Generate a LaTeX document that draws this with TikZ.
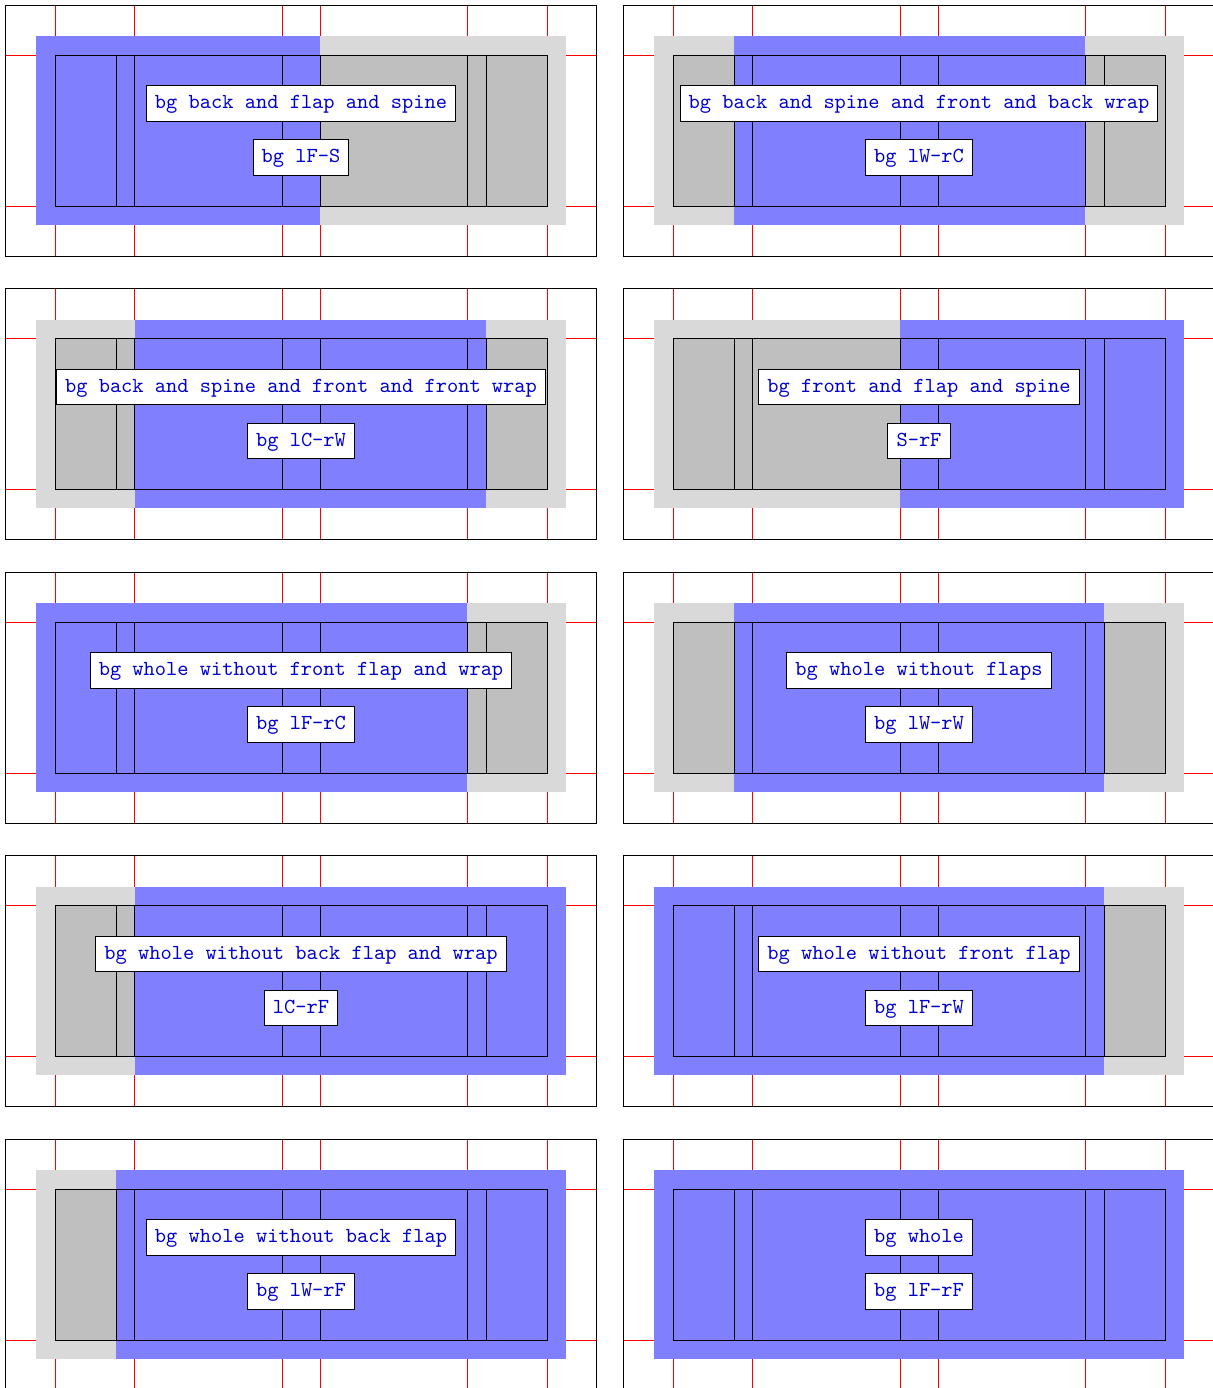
\documentclass[tikz,border=0pt]{standalone}
\definecolor{bluebg}{RGB}{128,128,255}
\definecolor{bleedgray}{RGB}{217,217,217}
\definecolor{innergray}{RGB}{191,191,191}
\definecolor{labelblue}{RGB}{0,0,204}
\tikzset{
  redline/.style={draw=red, line width=0.5pt},
  thinblack/.style={draw=black, line width=0.5pt},
  lbl/.style={draw=black, line width=0.5pt, fill=white, text=labelblue,
    font=\fontsize{10.7}{12}\selectfont\ttfamily,
    inner xsep=4.3pt, inner ysep=4.3pt, text height=7.1pt, text depth=1.9pt},
}
\newcommand\coverpanel[7]{%
\begin{scope}[shift={(#2,#3)}]
 \foreach \x in {55,134.7,282,320,467,547} \draw[redline] (\x,5) -- (\x,256);
 \foreach \y in {55,206} \draw[redline] (5,\y) -- (596,\y);
 \fill[bleedgray] (36,36) rectangle (566,224.7);
 \fill[innergray] (55,55) rectangle (547,206);
 \fill[bluebg] (#4,36) rectangle (#5,224.7);
 \draw[thinblack] (55,55) rectangle (547,206);
 \foreach \x in {116,134.7,282,320,467,486} \draw[thinblack] (\x,55) -- (\x,206);
 \draw[thinblack] (5,5) rectangle (596,256);
 \node[lbl] (#1a) at (301,103.5) {#6};
 \node[lbl] (#1b) at (301,157.5) {#7};
\end{scope}}
\begin{document}
\begin{tikzpicture}[x=0.5pt, y=-0.5pt]
\useasboundingbox (0,0) rectangle (1213,1388);
\begin{scope}
\clip (0,0) rectangle (1213,1388);
\coverpanel{p1}{0}{0}{36}{320}{bg back and flap and spine}{bg lF-S}
\coverpanel{p2}{618}{0}{116}{467}{bg back and spine and front and back wrap}{bg lW-rC}
\coverpanel{p3}{0}{283.5}{134.7}{486}{bg back and spine and front and front wrap}{bg lC-rW}
\coverpanel{p4}{618}{283.5}{282}{566}{bg front and flap and spine}{S-rF}
\coverpanel{p5}{0}{567}{36}{467}{bg whole without front flap and wrap}{bg lF-rC}
\coverpanel{p6}{618}{567}{116}{486}{bg whole without flaps}{bg lW-rW}
\coverpanel{p7}{0}{850.5}{134.7}{566}{bg whole without back flap and wrap}{lC-rF}
\coverpanel{p8}{618}{850.5}{36}{486}{bg whole without front flap}{bg lF-rW}
\coverpanel{p9}{0}{1134}{116}{566}{bg whole without back flap}{bg lW-rF}
\coverpanel{p10}{618}{1134}{36}{566}{bg whole}{bg lF-rF}
\end{scope}
\end{tikzpicture}
\end{document}
